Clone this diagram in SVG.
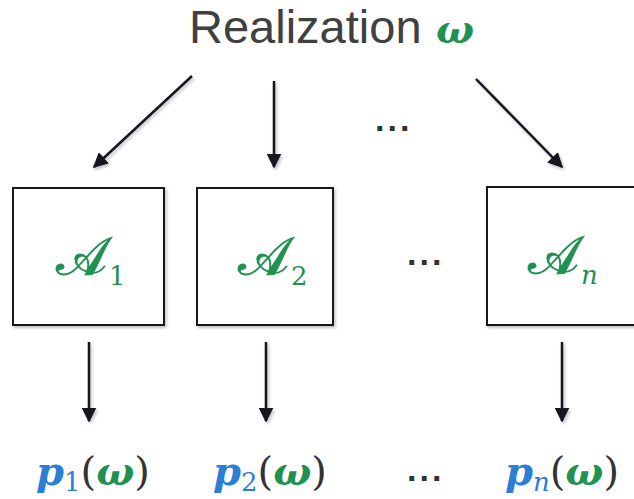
<svg xmlns="http://www.w3.org/2000/svg" width="634" height="499" viewBox="0 0 634 499">
<defs>
<marker id="ah" viewBox="0 0 10 10" refX="9" refY="5" markerWidth="6" markerHeight="6" markerUnits="strokeWidth" orient="auto">
<path d="M0,0 L10,5 L0,10 z" fill="#17121f"/>
</marker>
<filter id="sh" filterUnits="userSpaceOnUse" x="0" y="0" width="634" height="499">
<feDropShadow dx="1.5" dy="2" stdDeviation="1.5" flood-color="#000" flood-opacity="0.25"/>
</filter>
<style>
.box{fill:#fff;stroke:#17121f;stroke-width:2;filter:url(#sh)}
.arr{stroke:#17121f;stroke-width:2.5;fill:none;marker-end:url(#ah);filter:url(#sh)}
.title{font-family:"Liberation Sans",Arial,sans-serif;font-size:47px;fill:#404040}
.m{font-family:"DejaVu Serif","Liberation Serif",serif}
.g{fill:#1f9151}
.b{fill:#2a7ed3}
.k{fill:#333}
.scr{stroke:#1f9151;stroke-width:1}
.sub{stroke:none}
.dots{font-family:"Liberation Sans",Arial,sans-serif;font-size:34px;fill:#333;font-weight:bold;letter-spacing:3px}
</style>
</defs>
<g id="title">
<text class="title" x="189" y="43">Realization</text>
<text class="m g" x="436" y="43" font-size="40" font-weight="bold" font-style="italic">ω</text>
</g>
<g id="node-A1">
<rect class="box" x="13" y="188" width="151" height="137"/>
<text class="m g" x="56" y="275" font-size="54"><tspan class="scr">𝒜</tspan><tspan class="sub" font-size="26" dx="2" dy="10">1</tspan></text>
</g>
<g id="node-A2">
<rect class="box" x="197" y="188" width="136" height="137"/>
<text class="m g" x="238" y="275" font-size="54"><tspan class="scr">𝒜</tspan><tspan class="sub" font-size="26" dx="2" dy="10">2</tspan></text>
</g>
<g id="node-An">
<rect class="box" x="487" y="187" width="160" height="138"/>
<text class="m g" x="528" y="274" font-size="54"><tspan class="scr">𝒜</tspan><tspan class="sub" font-size="26" font-style="italic" dx="2" dy="10">n</tspan></text>
</g>
<g id="dots">
<text class="dots" x="375" y="131">...</text>
<text class="dots" x="407" y="265">...</text>
<text class="dots" x="407" y="481">...</text>
</g>
<g id="outputs">
<text x="36" y="485" font-size="40" class="m"><tspan class="b" font-weight="bold" font-style="italic">p</tspan><tspan class="b" font-size="26" dy="6">1</tspan><tspan class="k" dy="-6">(</tspan><tspan class="g" font-weight="bold" font-style="italic">ω</tspan><tspan class="k">)</tspan></text>
<text x="213" y="485" font-size="40" class="m"><tspan class="b" font-weight="bold" font-style="italic">p</tspan><tspan class="b" font-size="26" dy="6">2</tspan><tspan class="k" dy="-6">(</tspan><tspan class="g" font-weight="bold" font-style="italic">ω</tspan><tspan class="k">)</tspan></text>
<text x="505" y="485" font-size="40" class="m"><tspan class="b" font-weight="bold" font-style="italic">p</tspan><tspan class="b" font-size="26" font-style="italic" dy="6">n</tspan><tspan class="k" dy="-6">(</tspan><tspan class="g" font-weight="bold" font-style="italic">ω</tspan><tspan class="k">)</tspan></text>
</g>
<g id="connectors">
<line class="arr" x1="192" y1="76" x2="94" y2="167"/>
<line class="arr" x1="274" y1="81" x2="274" y2="167"/>
<line class="arr" x1="476" y1="79" x2="562" y2="167"/>
<line class="arr" x1="89" y1="342" x2="89" y2="421"/>
<line class="arr" x1="266" y1="342" x2="266" y2="421"/>
<line class="arr" x1="562" y1="342" x2="562" y2="421"/>
</g>
</svg>
